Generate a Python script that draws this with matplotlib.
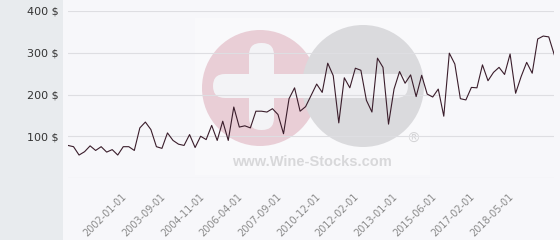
import matplotlib.pyplot as plt
from matplotlib.patches import Circle, FancyBboxPatch, Rectangle

# ---------------------------------------------------------------------------
# Price series (USD), one value per observation, read off the chart
# ---------------------------------------------------------------------------
prices = [
    78, 75, 55, 63, 77, 66, 75, 62, 68, 55,
    75, 75, 66, 120, 134, 116, 75, 71, 108, 90,
    81, 78, 104, 73, 100, 92, 126, 90, 136, 90,
    170, 122, 125, 120, 160, 160, 158, 166, 152, 106,
    190, 216, 160, 171, 198, 225, 205, 275, 245, 132,
    240, 216, 263, 258, 186, 158, 287, 265, 129, 213,
    255, 227, 247, 195, 246, 201, 194, 213, 148, 299,
    273, 190, 187, 217, 216, 271, 233, 253, 265, 248,
    297, 203, 243, 277, 251, 333, 340, 338, 295,
]

# labelled observations (index into prices) and their dates
tick_index = [11, 18, 25, 32, 39, 46, 53, 60, 67, 74, 81]
tick_labels = [
    "2002-01-01", "2003-09-01", "2004-11-01", "2006-04-01", "2007-09-01",
    "2010-12-01", "2012-02-01", "2013-01-01", "2015-06-01", "2017-02-01",
    "2018-05-01",
]
y_ticks = [0, 100, 200, 300, 400]
y_labels = ["", "100 $", "200 $", "300 $", "400 $"]

W, H = 560, 240
fig = plt.figure(figsize=(W / 100, H / 100), dpi=100, facecolor="#f7f7fa")

# background + watermark layer, in pixel coordinates (y pointing down)
bg = fig.add_axes([0, 0, 1, 1], zorder=0)
bg.set_xlim(0, W)
bg.set_ylim(H, 0)
bg.axis("off")
bg.add_patch(Rectangle((0, 0), 63, H, color="#e8ebee", lw=0))
bg.add_patch(Rectangle((195, 18), 235, 157, color="white", alpha=0.3, lw=0))
bg.add_patch(Circle((260, 88), 58, color="#e9ced6", lw=0))
bg.add_patch(Circle((363, 86), 61, color="#dadadd", lw=0))
bar_c = "#f3f3f6"
bg.add_patch(FancyBboxPatch((213, 74), 195, 24, boxstyle="round,pad=0,rounding_size=12",
                            color=bar_c, lw=0))
bg.add_patch(FancyBboxPatch((249, 43), 25, 87, boxstyle="round,pad=0,rounding_size=12",
                            color=bar_c, lw=0))
bg.text(312, 162, "www.Wine-Stocks.com", ha="center", va="center",
        fontsize=10.5, fontweight="bold", family="Liberation Sans", color="#d8d8da")
bg.text(413, 139, "\u00ae", ha="center", va="center", fontsize=10, color="#d4d4d6")

# ---------------------------------------------------------------------------
# Main chart
# ---------------------------------------------------------------------------
left, right, top, bottom = 68, 554.3, 11, 178
ax = fig.add_axes([left / W, 1 - bottom / H, (right - left) / W, (bottom - top) / H], zorder=1)
ax.set_facecolor("none")

ax.plot(range(len(prices)), prices, color="#3a1d2b", linewidth=0.8)

ax.set_xlim(0, len(prices) - 1)
ax.set_ylim(0, 400)
ax.set_yticks(y_ticks)
ax.set_yticklabels(y_labels)
ax.set_xticks(tick_index)
ax.set_xticklabels(tick_labels, rotation=45, ha="right", va="top")
ax.tick_params(axis="y", length=0, pad=7, labelsize=8, labelcolor="#333333")
ax.tick_params(axis="x", length=0, pad=10, labelsize=7, labelcolor="#8a8a8a")
ax.grid(True, axis="y", color="#dedee2", linewidth=0.8)
ax.set_axisbelow(True)
for s in ax.spines.values():
    s.set_visible(False)

fig.savefig("out.png", dpi=100, facecolor=fig.get_facecolor())
